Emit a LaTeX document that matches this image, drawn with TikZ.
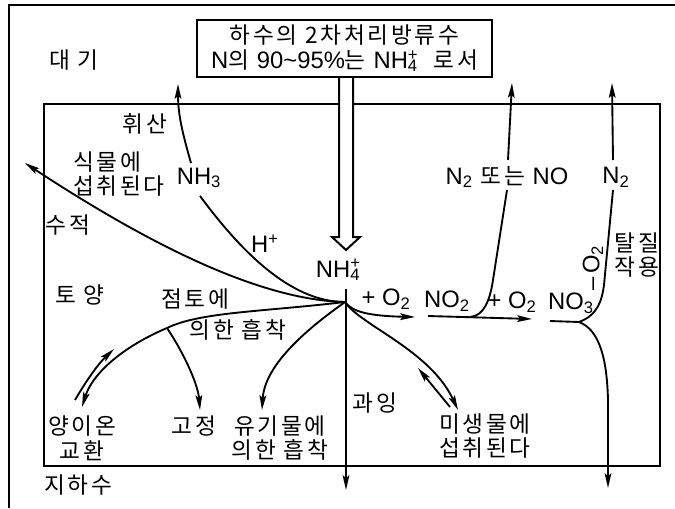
\documentclass[tikz,border=0pt]{standalone}
\usepackage{fontspec}
\setmainfont[LetterSpace=12]{Noto Sans CJK KR}
\newfontfamily\lat[Scale=1.05]{Liberation Sans}
\usetikzlibrary{arrows.meta}
\newcommand\sbs[1]{\textsubscript{#1}}
\newcommand\nhf{NH\rlap{\textsuperscript{+}}\textsubscript{4}}
\tikzset{
  lbl/.style={inner sep=0pt, font=\fontsize{17}{18.5}\selectfont, align=center},
  lt/.style={inner sep=0pt, font=\fontsize{17}{18.5}\selectfont\lat, align=center},
  ln/.style={line width=1.4pt},
  arr/.style={ln, -{Stealth[length=11pt,width=5pt,inset=2pt]}},
  frame/.style={line width=2pt},
}
\begin{document}
\begin{tikzpicture}[x=0.75pt,y=-0.75pt]
\useasboundingbox (0,0) rectangle (675,508);
% frames
\draw[frame] (9,508) -- (9,5) -- (675,5);
\draw[frame] (44,104) rectangle (660,466);
% source box and hollow arrow
\filldraw[fill=white, line width=1.5pt] (339,77) -- (339,237) -- (332,237) -- (346,250) -- (360,237) -- (353,237) -- (353,77);
\node[draw, fill=white, line width=1.5pt, minimum width=221pt, minimum height=43pt, inner sep=0pt,
      font=\fontsize{17}{18.5}\selectfont, align=center] (src) at (344.5,48.5)
  {하수의 2차처리방류수\\{\lat N}의 {\lat 90\textasciitilde95\%}는 {\lat\nhf}\ \ 로서};
\coordinate (hub) at (345,302);
% labels
\node[lbl] (daegi) at (74,60) {대 기};
\node[lbl] (hwisan) at (145,124) {휘산};
\node[lbl, align=left, anchor=west] (sikmul) at (73,174) {식물에\\섭취된다};
\node[lt] (nh3) at (199,178) {NH\sbs{3}};
\node[lbl] (sujeok) at (68,225) {수적};
\node[lt] (hplus) at (265,244) {H\textsuperscript{+}};
\node[lbl] (toyang) at (80,295) {토 양};
\node[lbl] (jeomto) at (195,299) {점토에};
\node[lbl] (euihan) at (238,330) {의한 흡착};
\node[lbl] (yangion) at (82,438) {양이온\\교환};
\node[lbl] (gojeong) at (194,426) {고정};
\node[lbl] (yugi) at (280,438) {유기물에\\의한 흡착};
\node[lbl] (jiha) at (78,485) {지하수};
\node[lbl] (gwaing) at (375,403) {과잉};
\node[lbl] (misaeng) at (485,436) {미생물에\\섭취된다};
\node[lt] (nh4) at (345,270) {\nhf\hphantom{+}};
\node[lt] (o2a) at (386,299) {+ O\sbs{2}};
\node[lt] (no2) at (447,301) {NO\sbs{2}};
\node[lt] (o2b) at (512,302) {+ O\sbs{2}};
\node[lt] (no3) at (571,303) {NO\sbs{3}};
\node[lbl] (n2no) at (507,177) {{\lat N\sbs{2}} 또는 {\lat NO}};
\node[lt] (n2) at (616,177) {N\sbs{2}};
\node[lbl] (talj) at (637,255) {탈질\\작용};
\node[lt, rotate=90] (mo2) at (593,268) {\textendash\,O\sbs{2}};
% connectors
\coordinate (nh3lo) at (200,196);
\coordinate (nh3hi) at (191,163);
\coordinate (nh3tip) at (178,84);
\draw[ln] (hub) .. controls (290,302) and (240,250) .. (nh3lo);
\draw[arr] (nh3hi) .. controls (183,135) and (178,115) .. (nh3tip);
\coordinate (plant) at (25,163);
\draw[arr] (hub) .. controls (260,300) and (150,245) .. (plant);
\coordinate (clay) at (167,328);
\coordinate (catex) at (82,407);
\draw[arr] (hub) .. controls (260,312) and (200,312) .. (clay) .. controls (120,348) and (92,375) .. (catex);
\coordinate (catbk0) at (75,400);
\coordinate (catbk1) at (114,349);
\draw[arr] (catbk0) .. controls (85,383) and (97,365) .. (catbk1);
\coordinate (fix) at (200,410);
\draw[arr] (clay) .. controls (185,355) and (198,385) .. (fix);
\coordinate (org) at (262,410);
\draw[arr] (hub) .. controls (320,320) and (265,360) .. (org);
\coordinate (hubtop) at (346,289);
\coordinate (excess) at (346,490);
\draw[arr] (hubtop) -- (excess);
\coordinate (ox1) at (415,317);
\draw[arr] (hub) .. controls (352,312) and (370,316) .. (ox1);
\coordinate (mic) at (458,410);
\draw[arr] (hub) .. controls (360,325) and (430,350) .. (mic);
\coordinate (micb0) at (450,407);
\coordinate (micb1) at (418,368);
\draw[arr] (micb0) -- (micb1);
\coordinate (no2s) at (428,316);
\coordinate (no2e) at (532,319);
\draw[arr] (no2s) -- (no2e);
\coordinate (nojoin) at (470,317);
\coordinate (nolo) at (507,190);
\draw[ln] (nojoin) .. controls (484,316) and (490,300) .. (493,280) -- (nolo);
\coordinate (nohi) at (508,160);
\coordinate (notip) at (512,83);
\draw[arr] (nohi) -- (notip);
\coordinate (no3s) at (550,321);
\coordinate (no3j) at (579,322);
\coordinate (dnlo) at (613,190);
\draw[ln] (no3s) -- (no3j) .. controls (598,315) and (602,300) .. (604,285) -- (dnlo);
\coordinate (dnhi) at (613,160);
\coordinate (dntip) at (612,83);
\draw[arr] (dnhi) -- (dntip);
\coordinate (leach) at (608,488);
\draw[arr] (no3j) .. controls (600,330) and (607,360) .. (608,400) -- (leach);
\end{tikzpicture}
\end{document}
